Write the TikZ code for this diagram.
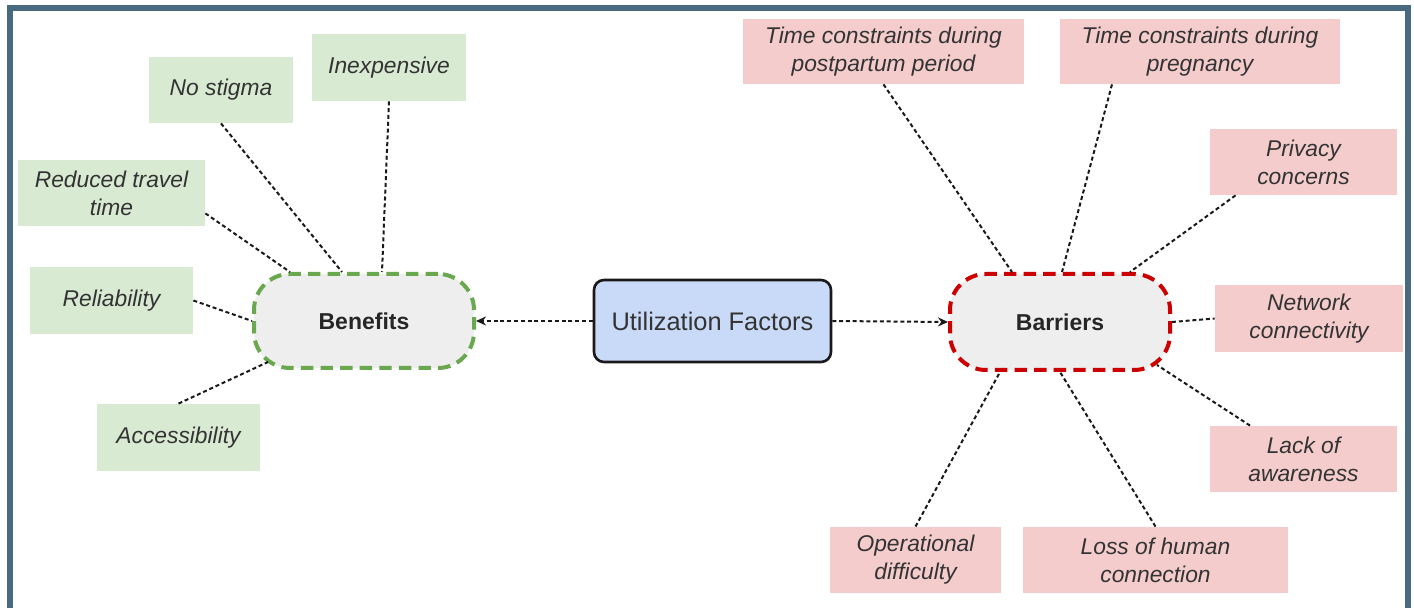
\documentclass[tikz,border=0pt]{standalone}
\usepackage{fontspec}
\setmainfont{Liberation Sans}
\usetikzlibrary{arrows.meta}
\definecolor{framecol}{HTML}{476A7F}
\definecolor{benfill}{HTML}{D9EAD3}
\definecolor{barfill}{HTML}{F4CCCC}
\definecolor{hubfill}{HTML}{EEEEEE}
\definecolor{benline}{HTML}{6AA84F}
\definecolor{barline}{HTML}{CC0000}
\definecolor{utilfill}{HTML}{C9DAF8}
\definecolor{txt}{HTML}{333333}
\tikzset{
  labelbox/.style={rectangle, inner sep=0pt, align=center, text=txt,
    font=\fontsize{11.4}{14}\selectfont\itshape},
  benbox/.style={labelbox, fill=benfill},
  barbox/.style={labelbox, fill=barfill},
  hub/.style={rectangle, rounded corners=18pt, fill=hubfill, line width=2pt,
    dash pattern=on 6.2pt off 3.6pt, minimum width=110pt, minimum height=47pt,
    font=\fontsize{11.5}{14}\selectfont\bfseries, text=black!85},
  conn/.style={draw=black!90, line width=1pt, dash pattern=on 2pt off 1.4pt},
  tip/.style={-{Stealth[length=5pt,width=4.5pt]}}
}
\begin{document}
\begin{tikzpicture}[x=0.5pt,y=-0.5pt]
\useasboundingbox (0,0) rectangle (1414,608);
\clip (0,0) rectangle (1414,608);
\fill[white] (0,0) rectangle (1414,608);
% outer frame, open at the bottom
\draw[framecol, line width=3pt] (10,650) -- (10,8) -- (1408,8) -- (1408,650);

% central node and the two hubs
\node[draw=black!90, fill=utilfill, line width=1.3pt, rounded corners=5pt,
  minimum width=118.5pt, minimum height=41pt, text=txt,
  font=\fontsize{12.7}{15}\selectfont] (util) at (712.5,321) {Utilization Factors};
\node[hub, draw=benline] (ben) at (364,321) {Benefits};
\node[hub, draw=barline, minimum height=48pt] (bar) at (1060,322) {Barriers};

% benefits
\node[benbox, minimum width=72pt, minimum height=33pt] (nostig) at (221,90) {No stigma};
\node[benbox, minimum width=77pt, minimum height=33.5pt] (inexp) at (389,67.5) {Inexpensive};
\node[benbox, minimum width=93.5pt, minimum height=33pt] (travel) at (111.5,193) {Reduced travel\\time};
\node[benbox, minimum width=81.5pt, minimum height=33.5pt] (reliab) at (111.5,300.5) {Reliability};
\node[benbox, minimum width=81.5pt, minimum height=33.5pt] (access) at (178.5,437.5) {Accessibility};

% barriers
\node[barbox, minimum width=140.5pt, minimum height=32.5pt] (postp) at (883.5,51.5) {Time constraints during\\postpartum period};
\node[barbox, minimum width=140pt, minimum height=32.5pt] (pregn) at (1200,51.5) {Time constraints during\\pregnancy};
\node[barbox, minimum width=93.5pt, minimum height=33pt] (priv) at (1303.5,162) {Privacy\\concerns};
\node[barbox, minimum width=94pt, minimum height=33.5pt] (netw) at (1309,318.5) {Network\\connectivity};
\node[barbox, minimum width=93.5pt, minimum height=33pt] (aware) at (1303.5,459) {Lack of\\awareness};
\node[barbox, minimum width=85.5pt, minimum height=33pt] (oper) at (915.5,560) {Operational\\difficulty};
\node[barbox, minimum width=132.5pt, minimum height=33pt] (human) at (1155.5,560) {Loss of human\\connection};

% arrows from the central node
\draw[conn, tip] (util.west) -- (ben.east);
\draw[conn, tip] (util.east) -- (bar.west);

% benefit connectors
\draw[conn] (nostig.south) -- ([xshift=-11pt]ben.north);
\draw[conn] (inexp.south) -- ([xshift=9pt]ben.north);
\draw[conn] ([yshift=6.5pt]travel.south east) -- ([xshift=-37pt]ben.north);
\draw[conn] (reliab.east) -- (ben.west);
\draw[conn] (access.north) -- ([xshift=8pt,yshift=4pt]ben.south west);

% barrier connectors
\draw[conn] (postp.south) -- ([xshift=-24pt]bar.north);
\draw[conn] ([xshift=-44pt]pregn.south) -- ([xshift=1pt]bar.north);
\draw[conn] ([xshift=-34pt]priv.south) -- ([xshift=35pt]bar.north);
\draw[conn] (bar.east) -- (netw.west);
\draw[conn] ([xshift=-26.75pt]aware.north) -- ([xshift=-7.5pt,yshift=3.5pt]bar.south east);
\draw[conn] (oper.north) -- ([xshift=-30pt]bar.south);
\draw[conn] (human.north) -- (bar.south);
\end{tikzpicture}
\end{document}
